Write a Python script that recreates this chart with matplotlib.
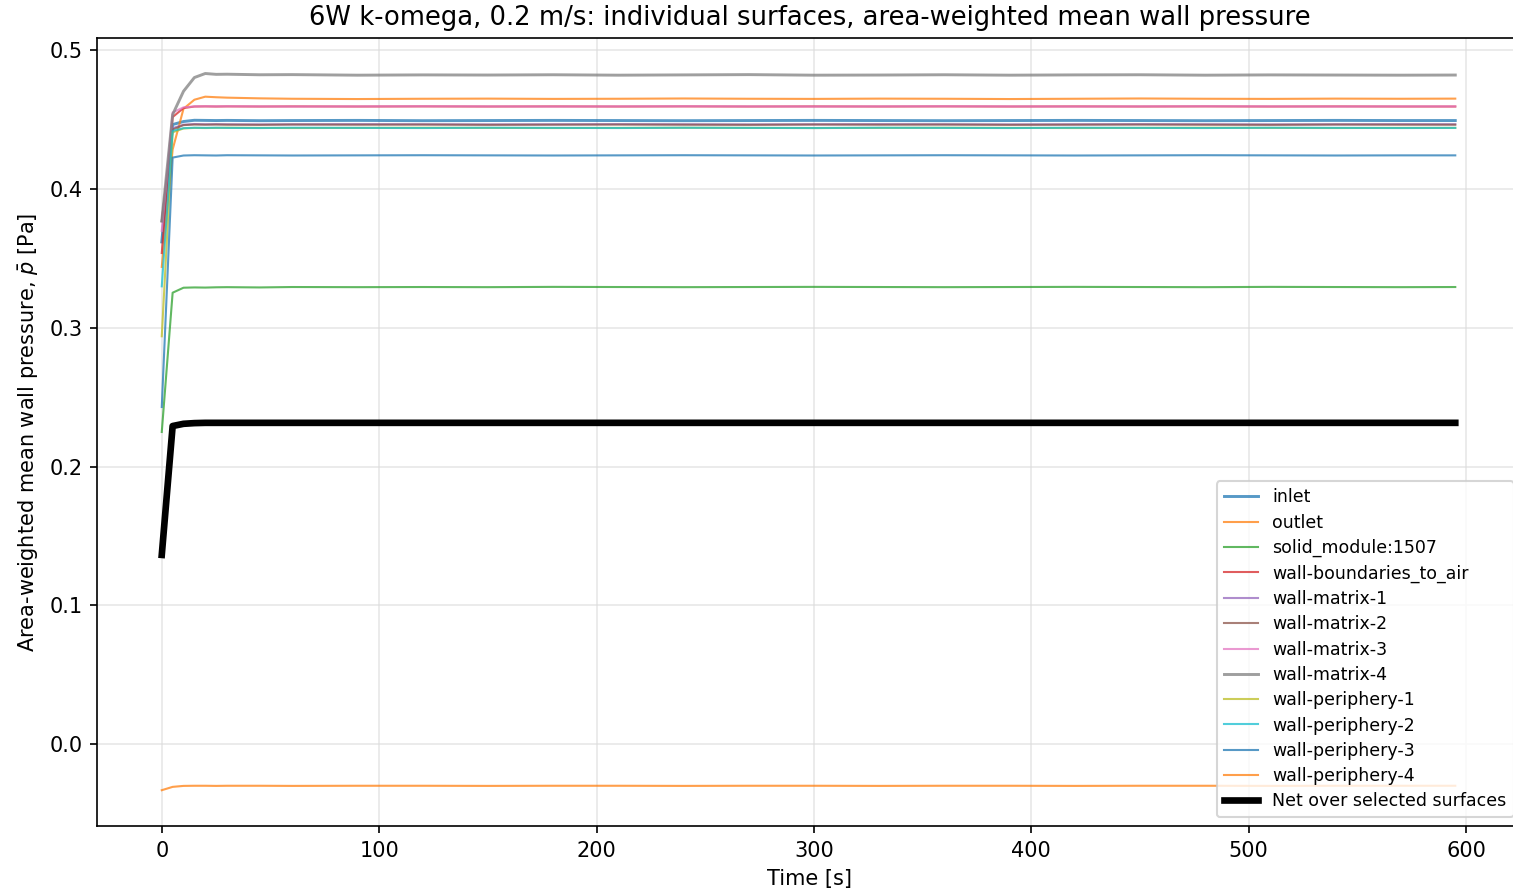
import matplotlib
matplotlib.use('Agg')
import matplotlib.pyplot as plt
import numpy as np

times = [0, 5, 10, 15, 20, 25, 30, 45, 60, 90, 120, 150, 180, 210, 240, 270,
         300, 330, 360, 390, 420, 450, 480, 510, 540, 570, 595]

inlet = [0.362, 0.4466, 0.4488, 0.4497, 0.4496, 0.4495, 0.4496, 0.4494, 0.4495, 0.4496, 0.4494,
         0.4495, 0.4496, 0.4495, 0.4494, 0.4495, 0.4496, 0.4495, 0.4494, 0.4495, 0.4496, 0.4495,
         0.4494, 0.4495, 0.4496, 0.4495, 0.4495]
outlet = [0.344, 0.4286, 0.4580, 0.4645, 0.4667, 0.4663, 0.4660, 0.4655, 0.4652, 0.4650, 0.4652,
          0.4653, 0.4651, 0.4652, 0.4654, 0.4652, 0.4651, 0.4653, 0.4652, 0.4650, 0.4652, 0.4654,
          0.4652, 0.4651, 0.4653, 0.4652, 0.4653]
solid_module = [0.225, 0.3254, 0.3290, 0.3292, 0.3291, 0.3293, 0.3294, 0.3292, 0.3295, 0.3294, 0.3295,
                0.3294, 0.3296, 0.3295, 0.3294, 0.3295, 0.3296, 0.3295, 0.3294, 0.3295, 0.3296, 0.3295,
                0.3294, 0.3296, 0.3295, 0.3294, 0.3295]
wall_boundaries = [0.354, 0.4520, 0.4585, 0.4596, 0.4597, 0.4596, 0.4597, 0.4596, 0.4597, 0.4596, 0.4597,
                   0.4596, 0.4597, 0.4596, 0.4597, 0.4596, 0.4597, 0.4596, 0.4597, 0.4596, 0.4597, 0.4596,
                   0.4597, 0.4596, 0.4597, 0.4596, 0.4596]
matrix_1 = [0.377, 0.4440, 0.4465, 0.4470, 0.4468, 0.4469, 0.4468, 0.4467, 0.4468, 0.4469, 0.4468,
            0.4467, 0.4468, 0.4469, 0.4468, 0.4467, 0.4468, 0.4469, 0.4468, 0.4467, 0.4468, 0.4469,
            0.4468, 0.4467, 0.4468, 0.4469, 0.4468]
matrix_2 = [0.377, 0.4430, 0.4462, 0.4466, 0.4465, 0.4466, 0.4465, 0.4464, 0.4466, 0.4465, 0.4466,
            0.4464, 0.4465, 0.4466, 0.4465, 0.4464, 0.4466, 0.4465, 0.4466, 0.4464, 0.4465, 0.4466,
            0.4465, 0.4464, 0.4466, 0.4465, 0.4465]
matrix_3 = [0.370, 0.4553, 0.4590, 0.4597, 0.4598, 0.4597, 0.4598, 0.4597, 0.4596, 0.4597, 0.4598,
            0.4597, 0.4596, 0.4597, 0.4598, 0.4597, 0.4596, 0.4597, 0.4598, 0.4597, 0.4596, 0.4597,
            0.4598, 0.4597, 0.4596, 0.4597, 0.4597]
matrix_4 = [0.377, 0.4538, 0.4706, 0.4805, 0.4834, 0.4828, 0.4829, 0.4825, 0.4826, 0.4822, 0.4824,
            0.4823, 0.4825, 0.4822, 0.4824, 0.4826, 0.4822, 0.4823, 0.4825, 0.4822, 0.4824, 0.4825,
            0.4822, 0.4824, 0.4823, 0.4822, 0.4823]
periphery_1 = [0.294, 0.4410, 0.4438, 0.4442, 0.4441, 0.4442, 0.4443, 0.4442, 0.4441, 0.4442, 0.4443,
               0.4442, 0.4441, 0.4442, 0.4443, 0.4442, 0.4441, 0.4442, 0.4443, 0.4442, 0.4441, 0.4442,
               0.4443, 0.4442, 0.4441, 0.4442, 0.4442]
periphery_2 = [0.330, 0.4420, 0.4440, 0.4443, 0.4442, 0.4443, 0.4442, 0.4441, 0.4443, 0.4442, 0.4441,
               0.4443, 0.4442, 0.4441, 0.4443, 0.4442, 0.4441, 0.4443, 0.4442, 0.4441, 0.4443, 0.4442,
               0.4441, 0.4443, 0.4442, 0.4441, 0.4442]
periphery_3 = [0.243, 0.4228, 0.4243, 0.4245, 0.4244, 0.4243, 0.4245, 0.4244, 0.4243, 0.4244, 0.4245,
               0.4244, 0.4243, 0.4244, 0.4245, 0.4244, 0.4243, 0.4244, 0.4245, 0.4244, 0.4243, 0.4244,
               0.4245, 0.4244, 0.4243, 0.4244, 0.4244]
periphery_4 = [-0.0332, -0.0308, -0.0301, -0.0300, -0.0300, -0.0301, -0.0300, -0.0300, -0.0301, -0.0300,
               -0.0300, -0.0301, -0.0300, -0.0300, -0.0301, -0.0300, -0.0300, -0.0301, -0.0300, -0.0300,
               -0.0301, -0.0300, -0.0300, -0.0301, -0.0300, -0.0300, -0.0300]
net = [0.1364, 0.2293, 0.2309, 0.2314, 0.2316, 0.2316, 0.2316, 0.2316, 0.2316, 0.2316, 0.2316,
       0.2316, 0.2316, 0.2316, 0.2316, 0.2316, 0.2316, 0.2316, 0.2316, 0.2316, 0.2316, 0.2316,
       0.2316, 0.2316, 0.2316, 0.2316, 0.2316]

surfaces = [
    ('inlet', inlet),
    ('outlet', outlet),
    ('solid_module:1507', solid_module),
    ('wall-boundaries_to_air', wall_boundaries),
    ('wall-matrix-1', matrix_1),
    ('wall-matrix-2', matrix_2),
    ('wall-matrix-3', matrix_3),
    ('wall-matrix-4', matrix_4),
    ('wall-periphery-1', periphery_1),
    ('wall-periphery-2', periphery_2),
    ('wall-periphery-3', periphery_3),
    ('wall-periphery-4', periphery_4),
]
thick = {'inlet', 'wall-matrix-4'}

fig = plt.figure(figsize=(1513 / 150, 892 / 150), dpi=150)
ax = fig.add_axes([0.0641, 0.074, 0.9420, 0.8834])

for i, (name, vals) in enumerate(surfaces):
    lw = 1.4 if name in thick else 1.0
    ax.plot(times, vals, color='C%d' % (i % 10), lw=lw, alpha=0.75, label=name)
ax.plot(times, net, color='black', lw=3.2, label='Net over selected surfaces')

ax.set_xlim(-29.8, 625.8)
ax.set_ylim(-0.059, 0.509)
ax.grid(True, color='#dddddd', alpha=0.7)
ax.set_xlabel('Time [s]')
ax.set_ylabel(r'Area-weighted mean wall pressure, $\bar{p}$ [Pa]')
ax.set_title('6W k-omega, 0.2 m/s: individual surfaces, area-weighted mean wall pressure',
             fontsize=12.4)
ax.legend(loc='lower right', fontsize='small', framealpha=0.8, labelspacing=0.42)

fig.savefig('out.png', dpi=150)
